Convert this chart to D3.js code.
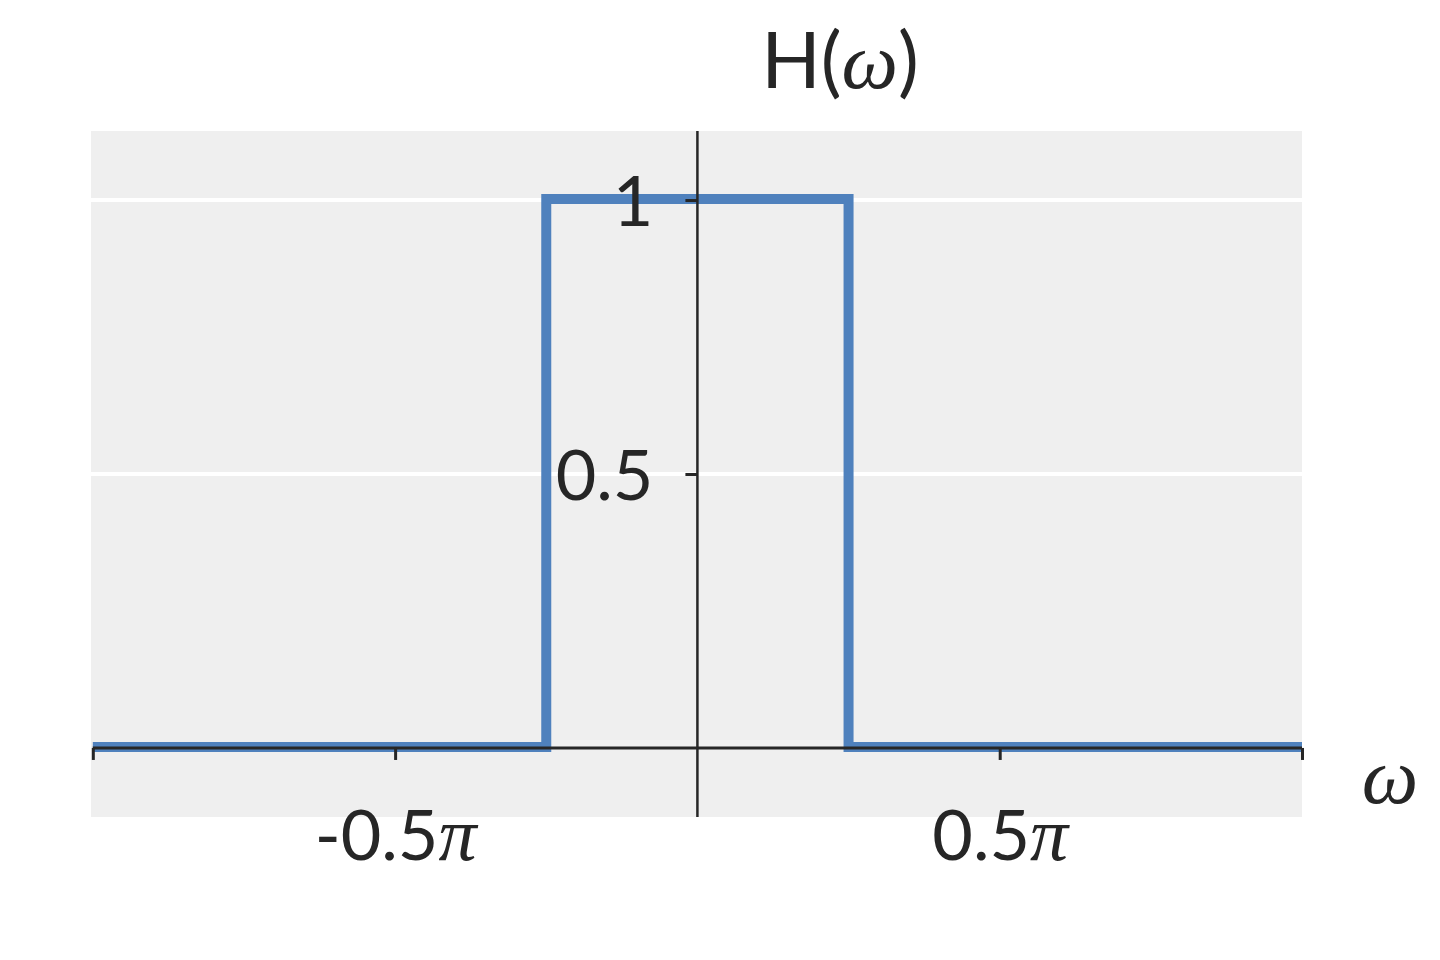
<!DOCTYPE html>
<html>
<head>
<meta charset="utf-8">
<script src="https://cdn.jsdelivr.net/npm/d3@7"></script>
<style>
  body { margin: 0; background: #fff; }
</style>
</head>
<body>
<div id="chart"></div>
<script>
// frequency breakpoints (in units of pi) and H value from each breakpoint on
var omegaPi = [-1, -0.25, 0.25, 1];
var hValues = [0, 1, 0, 0];
var xTicks = [-1, -0.5, 0.5, 1];
var xTickLabels = ["", "-0.5", "0.5", ""];
var yTicks = [0.5, 1];
var yTickLabels = ["0.5", "1"];

var W = 1440, H = 960;
var plot = { left: 91, right: 1302, top: 131, bottom: 817 };

var svg = d3.select("#chart").append("svg")
    .attr("width", W)
    .attr("height", H);

var x = d3.scaleLinear().domain([-1.003, 1.0]).range([plot.left, plot.right]);
var y = d3.scaleLinear().domain([-0.126, 1.126]).range([plot.bottom, plot.top]);

var font = "Lato, 'Open Sans', sans-serif";
var mathFont = "'Liberation Serif', 'DejaVu Serif', serif";
var ink = "#262626";

// background
svg.append("rect")
    .attr("x", plot.left).attr("y", plot.top)
    .attr("width", plot.right - plot.left)
    .attr("height", plot.bottom - plot.top)
    .attr("fill", "#efefef");

// horizontal grid
svg.append("g").selectAll("line")
    .data(yTicks)
    .join("line")
    .attr("x1", plot.left).attr("x2", plot.right)
    .attr("y1", d => y(d)).attr("y2", d => y(d))
    .attr("stroke", "#fff")
    .attr("stroke-width", 4);

// the step response
var pts = omegaPi.map((d, i) => [d, hValues[i]]);
svg.append("path")
    .datum(pts)
    .attr("fill", "none")
    .attr("stroke", "#4f81bd")
    .attr("stroke-width", 10)
    .attr("d", d3.line().x(d => x(d[0])).y(d => y(d[1]) - 1).curve(d3.curveStepAfter));

// x axis through y=0
var xAxis = svg.append("g")
    .attr("transform", `translate(0,${y(0)})`)
    .call(d3.axisBottom(x).tickValues(xTicks).tickSize(12).tickSizeOuter(0)
        .tickFormat(() => ""));
xAxis.select(".domain").attr("stroke", ink).attr("stroke-width", 3)
    .attr("d", `M${x(-1)},0H${x(1)}`);
xAxis.selectAll(".tick line").attr("stroke", ink).attr("stroke-width", 3);
xAxis.selectAll(".tick text").each(function(d, i) {
    var t = d3.select(this)
        .attr("fill", ink)
        .attr("font-family", font)
        .attr("font-size", 70)
        .attr("dy", 0)
        .attr("y", 112);
    if (xTickLabels[i]) {
        t.append("tspan").text(xTickLabels[i]);
        t.append("tspan").attr("font-family", mathFont).attr("font-style", "italic").attr("font-size", 76).text("\u03c0");
    }
});

// y axis through x=0
var yAxis = svg.append("g")
    .attr("transform", `translate(${x(0)},0)`)
    .call(d3.axisLeft(y).tickValues(yTicks).tickSize(12).tickSizeOuter(0)
        .tickFormat((d, i) => yTickLabels[i]));
yAxis.select(".domain").attr("stroke", ink).attr("stroke-width", 2.5)
    .attr("d", `M0,${plot.top}V${plot.bottom}`);
yAxis.selectAll(".tick line").attr("stroke", ink).attr("stroke-width", 3);
yAxis.selectAll(".tick text")
    .attr("fill", ink)
    .attr("font-family", font)
    .attr("font-size", 70)
    .attr("x", -44)
    .attr("dy", "0.36em");

// labels
var title = svg.append("text")
    .attr("x", 840).attr("y", 88)
    .attr("text-anchor", "middle")
    .attr("fill", ink)
    .attr("font-family", font)
    .attr("font-size", 78);
title.append("tspan").text("H(");
title.append("tspan").attr("font-family", mathFont).attr("font-style", "italic").attr("font-size", 80).text("\u03c9");
title.append("tspan").text(")");

svg.append("text")
    .attr("x", 1390).attr("y", 803)
    .attr("text-anchor", "middle")
    .attr("fill", ink)
    .attr("font-family", mathFont)
    .attr("font-style", "italic")
    .attr("font-size", 80)
    .text("\u03c9");
</script>
</body>
</html>
